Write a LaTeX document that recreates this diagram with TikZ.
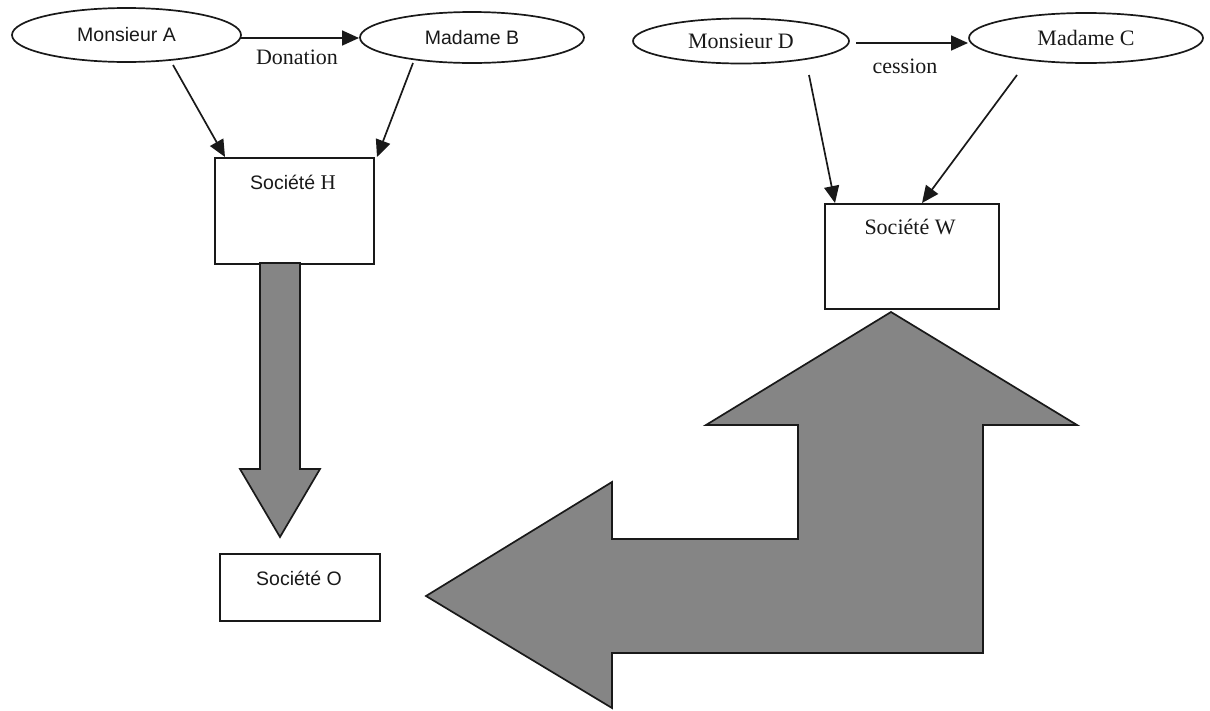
\documentclass[tikz,border=0pt]{standalone}
\usepackage{fontspec}
\setmainfont{Liberation Serif}
\newfontfamily\arialf{Liberation Sans}
\usetikzlibrary{arrows.meta,shapes.geometric}
\definecolor{arrowgray}{RGB}{133,133,133}
\definecolor{inkcol}{RGB}{25,25,25}
\begin{document}
\begin{tikzpicture}[x=1pt,y=-1pt,
  ell/.style={draw=inkcol, ellipse, line width=1.7pt, inner sep=0pt, text=inkcol},
  sanslbl/.style={font=\arialf\fontsize{19.5}{22}\selectfont, text=inkcol},
  seriflbl/.style={font=\fontsize{22}{25}\selectfont, text=inkcol},
  boxnode/.style={draw=inkcol, rectangle, line width=1.7pt, inner sep=0pt, anchor=north west},
  conn/.style={draw=inkcol, line width=1.7pt, -{Triangle[length=17pt,width=15pt]}},
  bigarrow/.style={draw=inkcol, line width=1.7pt, fill=arrowgray, line join=miter}
]
\useasboundingbox (0,0) rectangle (1210,710);

% ellipses
\node[ell, sanslbl, minimum width=229pt, minimum height=54pt] (A) at (126.5,35) {Monsieur A};
\node[ell, sanslbl, minimum width=224pt, minimum height=51pt] (B) at (472,37.5) {Madame B};
\node[ell, seriflbl, minimum width=216pt, minimum height=45pt] (D) at (741,41) {Monsieur D};
\node[ell, seriflbl, minimum width=234pt, minimum height=50pt] (C) at (1086,38) {Madame C};

% boxes
\node[boxnode, minimum width=159pt, minimum height=106pt] (H) at (214,157) {};
\node[sanslbl] (Ht) at (293,182) {Société {\rmfamily\fontsize{21}{24}\selectfont H}};
\node[boxnode, minimum width=160pt, minimum height=67pt] (O) at (219,553) {};
\node[sanslbl] (Ot) at (299,578) {Société O};
\node[boxnode, minimum width=174pt, minimum height=105pt] (W) at (824,203) {};
\node[seriflbl] (Wt) at (910,227) {Société W};

% connector end points
\coordinate (a1) at (173,65);
\coordinate (h1) at (225,157);
\coordinate (b1) at (413,63);
\coordinate (h2) at (377,157);
\coordinate (d1) at (809,75);
\coordinate (w1) at (835,203);
\coordinate (c1) at (1017,75);
\coordinate (w2) at (922,203);
\coordinate (ab0) at (241,38);
\coordinate (ab1) at (359,38);
\coordinate (dc0) at (856,43);
\coordinate (dc1) at (968,43);

\draw[conn] (ab0) -- (ab1);
\node[seriflbl] (don) at (297,57) {Donation};
\draw[conn] (dc0) -- (dc1);
\node[seriflbl] (ces) at (905,66) {cession};

\draw[conn] (a1) -- (h1);
\draw[conn] (b1) -- (h2);
\draw[conn] (d1) -- (w1);
\draw[conn] (c1) -- (w2);

% small down arrow
\draw[bigarrow] (260,263) -- (300,263) -- (300,469) -- (320,469) -- (280,537)
  -- (240,469) -- (260,469) -- cycle;

% big bent arrow
\draw[bigarrow] (891,312) -- (1077,425) -- (983,425) -- (983,653) -- (612,653)
  -- (612,708) -- (426,596) -- (612,482) -- (612,539) -- (798,539) -- (798,425)
  -- (706,425) -- cycle;
\end{tikzpicture}
\end{document}
